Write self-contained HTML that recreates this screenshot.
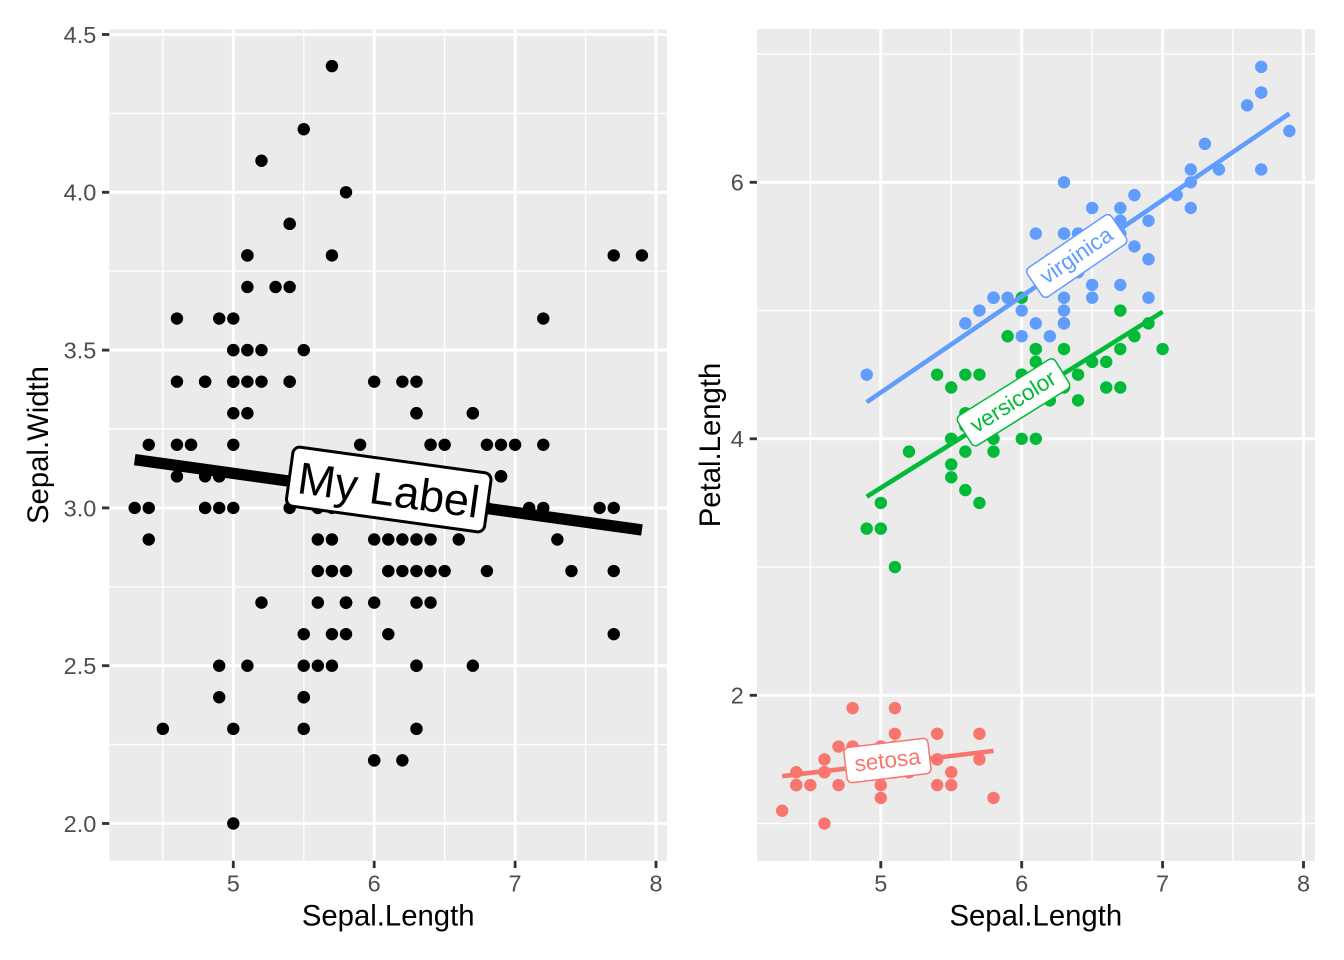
<!DOCTYPE html>
<html><head><meta charset="utf-8"><style>
html,body{margin:0;padding:0;background:#fff;}
svg{display:block;font-family:"Liberation Sans",Arial,sans-serif;}
.tk{font-size:23.5px;fill:#4D4D4D;}
.tt{font-size:29.3px;fill:#000;}
</style></head><body>
<svg width="1344" height="960" viewBox="0 0 1344 960" xmlns="http://www.w3.org/2000/svg">
<defs>
<ellipse id="a" cx="0" cy="0" rx="0.0440" ry="0.01965"/>
<ellipse id="b" cx="0" cy="0" rx="0.0440" ry="0.04834"/>
</defs>
<rect width="1344" height="960" fill="#fff"/>

<!-- LEFT PANEL -->
<rect x="109.3" y="29.2" width="557.7" height="831.6" fill="#EBEBEB"/>
<g stroke="#fff" stroke-width="1.42">
<line x1="162.85" y1="29.2" x2="162.85" y2="860.8"/>
<line x1="303.75" y1="29.2" x2="303.75" y2="860.8"/>
<line x1="444.65" y1="29.2" x2="444.65" y2="860.8"/>
<line x1="585.55" y1="29.2" x2="585.55" y2="860.8"/>
<line x1="109.3" y1="744.6" x2="667" y2="744.6"/>
<line x1="109.3" y1="586.8" x2="667" y2="586.8"/>
<line x1="109.3" y1="429.0" x2="667" y2="429.0"/>
<line x1="109.3" y1="271.2" x2="667" y2="271.2"/>
<line x1="109.3" y1="113.4" x2="667" y2="113.4"/>
</g>
<g stroke="#fff" stroke-width="2.84">
<line x1="233.3" y1="29.2" x2="233.3" y2="860.8"/>
<line x1="374.2" y1="29.2" x2="374.2" y2="860.8"/>
<line x1="515.1" y1="29.2" x2="515.1" y2="860.8"/>
<line x1="656.0" y1="29.2" x2="656.0" y2="860.8"/>
<line x1="109.3" y1="823.5" x2="667" y2="823.5"/>
<line x1="109.3" y1="665.7" x2="667" y2="665.7"/>
<line x1="109.3" y1="507.9" x2="667" y2="507.9"/>
<line x1="109.3" y1="350.1" x2="667" y2="350.1"/>
<line x1="109.3" y1="192.3" x2="667" y2="192.3"/>
<line x1="109.3" y1="34.5" x2="667" y2="34.5"/>
</g>
<g transform="translate(-471.2,1454.7) scale(140.9,-315.6)" fill="#000">
<use href="#a" x="5.1" y="3.5"/><use href="#a" x="4.9" y="3.0"/><use href="#a" x="4.7" y="3.2"/><use href="#a" x="4.6" y="3.1"/><use href="#a" x="5.0" y="3.6"/><use href="#a" x="5.4" y="3.9"/><use href="#a" x="4.6" y="3.4"/><use href="#a" x="5.0" y="3.4"/><use href="#a" x="4.4" y="2.9"/><use href="#a" x="4.9" y="3.1"/>
<use href="#a" x="5.4" y="3.7"/><use href="#a" x="4.8" y="3.4"/><use href="#a" x="4.8" y="3.0"/><use href="#a" x="4.3" y="3.0"/><use href="#a" x="5.8" y="4.0"/><use href="#a" x="5.7" y="4.4"/><use href="#a" x="5.4" y="3.9"/><use href="#a" x="5.1" y="3.5"/><use href="#a" x="5.7" y="3.8"/><use href="#a" x="5.1" y="3.8"/>
<use href="#a" x="5.4" y="3.4"/><use href="#a" x="5.1" y="3.7"/><use href="#a" x="4.6" y="3.6"/><use href="#a" x="5.1" y="3.3"/><use href="#a" x="4.8" y="3.4"/><use href="#a" x="5.0" y="3.0"/><use href="#a" x="5.0" y="3.4"/><use href="#a" x="5.2" y="3.5"/><use href="#a" x="5.2" y="3.4"/><use href="#a" x="4.7" y="3.2"/>
<use href="#a" x="4.8" y="3.1"/><use href="#a" x="5.4" y="3.4"/><use href="#a" x="5.2" y="4.1"/><use href="#a" x="5.5" y="4.2"/><use href="#a" x="4.9" y="3.1"/><use href="#a" x="5.0" y="3.2"/><use href="#a" x="5.5" y="3.5"/><use href="#a" x="4.9" y="3.6"/><use href="#a" x="4.4" y="3.0"/><use href="#a" x="5.1" y="3.4"/>
<use href="#a" x="5.0" y="3.5"/><use href="#a" x="4.5" y="2.3"/><use href="#a" x="4.4" y="3.2"/><use href="#a" x="5.0" y="3.5"/><use href="#a" x="5.1" y="3.8"/><use href="#a" x="4.8" y="3.0"/><use href="#a" x="5.1" y="3.8"/><use href="#a" x="4.6" y="3.2"/><use href="#a" x="5.3" y="3.7"/><use href="#a" x="5.0" y="3.3"/>
<use href="#a" x="7.0" y="3.2"/><use href="#a" x="6.4" y="3.2"/><use href="#a" x="6.9" y="3.1"/><use href="#a" x="5.5" y="2.3"/><use href="#a" x="6.5" y="2.8"/><use href="#a" x="5.7" y="2.8"/><use href="#a" x="6.3" y="3.3"/><use href="#a" x="4.9" y="2.4"/><use href="#a" x="6.6" y="2.9"/><use href="#a" x="5.2" y="2.7"/>
<use href="#a" x="5.0" y="2.0"/><use href="#a" x="5.9" y="3.0"/><use href="#a" x="6.0" y="2.2"/><use href="#a" x="6.1" y="2.9"/><use href="#a" x="5.6" y="2.9"/><use href="#a" x="6.7" y="3.1"/><use href="#a" x="5.6" y="3.0"/><use href="#a" x="5.8" y="2.7"/><use href="#a" x="6.2" y="2.2"/><use href="#a" x="5.6" y="2.5"/>
<use href="#a" x="5.9" y="3.2"/><use href="#a" x="6.1" y="2.8"/><use href="#a" x="6.3" y="2.5"/><use href="#a" x="6.1" y="2.8"/><use href="#a" x="6.4" y="2.9"/><use href="#a" x="6.6" y="3.0"/><use href="#a" x="6.8" y="2.8"/><use href="#a" x="6.7" y="3.0"/><use href="#a" x="6.0" y="2.9"/><use href="#a" x="5.7" y="2.6"/>
<use href="#a" x="5.5" y="2.4"/><use href="#a" x="5.5" y="2.4"/><use href="#a" x="5.8" y="2.7"/><use href="#a" x="6.0" y="2.7"/><use href="#a" x="5.4" y="3.0"/><use href="#a" x="6.0" y="3.4"/><use href="#a" x="6.7" y="3.1"/><use href="#a" x="6.3" y="2.3"/><use href="#a" x="5.6" y="3.0"/><use href="#a" x="5.5" y="2.5"/>
<use href="#a" x="5.5" y="2.6"/><use href="#a" x="6.1" y="3.0"/><use href="#a" x="5.8" y="2.6"/><use href="#a" x="5.0" y="2.3"/><use href="#a" x="5.6" y="2.7"/><use href="#a" x="5.7" y="3.0"/><use href="#a" x="5.7" y="2.9"/><use href="#a" x="6.2" y="2.9"/><use href="#a" x="5.1" y="2.5"/><use href="#a" x="5.7" y="2.8"/>
<use href="#a" x="6.3" y="3.3"/><use href="#a" x="5.8" y="2.7"/><use href="#a" x="7.1" y="3.0"/><use href="#a" x="6.3" y="2.9"/><use href="#a" x="6.5" y="3.0"/><use href="#a" x="7.6" y="3.0"/><use href="#a" x="4.9" y="2.5"/><use href="#a" x="7.3" y="2.9"/><use href="#a" x="6.7" y="2.5"/><use href="#a" x="7.2" y="3.6"/>
<use href="#a" x="6.5" y="3.2"/><use href="#a" x="6.4" y="2.7"/><use href="#a" x="6.8" y="3.0"/><use href="#a" x="5.7" y="2.5"/><use href="#a" x="5.8" y="2.8"/><use href="#a" x="6.4" y="3.2"/><use href="#a" x="6.5" y="3.0"/><use href="#a" x="7.7" y="3.8"/><use href="#a" x="7.7" y="2.6"/><use href="#a" x="6.0" y="2.2"/>
<use href="#a" x="6.9" y="3.2"/><use href="#a" x="5.6" y="2.8"/><use href="#a" x="7.7" y="2.8"/><use href="#a" x="6.3" y="2.7"/><use href="#a" x="6.7" y="3.3"/><use href="#a" x="7.2" y="3.2"/><use href="#a" x="6.2" y="2.8"/><use href="#a" x="6.1" y="3.0"/><use href="#a" x="6.4" y="2.8"/><use href="#a" x="7.2" y="3.0"/>
<use href="#a" x="7.4" y="2.8"/><use href="#a" x="7.9" y="3.8"/><use href="#a" x="6.4" y="2.8"/><use href="#a" x="6.3" y="2.8"/><use href="#a" x="6.1" y="2.6"/><use href="#a" x="7.7" y="3.0"/><use href="#a" x="6.3" y="3.4"/><use href="#a" x="6.4" y="3.1"/><use href="#a" x="6.0" y="3.0"/><use href="#a" x="6.9" y="3.1"/>
<use href="#a" x="6.7" y="3.1"/><use href="#a" x="6.9" y="3.1"/><use href="#a" x="5.8" y="2.7"/><use href="#a" x="6.8" y="3.2"/><use href="#a" x="6.7" y="3.3"/><use href="#a" x="6.7" y="3.0"/><use href="#a" x="6.3" y="2.5"/><use href="#a" x="6.5" y="3.0"/><use href="#a" x="6.2" y="3.4"/><use href="#a" x="5.9" y="3.0"/>
</g>
<line x1="134.67" y1="459.66" x2="641.9" y2="529.97" stroke="#000" stroke-width="11.4"/>
<g transform="translate(388.75,489.5) rotate(7.89)">
<rect x="-100" y="-29.8" width="200" height="59.6" rx="7" ry="7" fill="#fff" stroke="#000" stroke-width="3"/>
<text x="0" y="16" text-anchor="middle" font-size="45" fill="#000">My Label</text>
</g>
<g stroke="#333" stroke-width="2.84">
<line x1="102" y1="823.5" x2="109.3" y2="823.5"/>
<line x1="102" y1="665.7" x2="109.3" y2="665.7"/>
<line x1="102" y1="507.9" x2="109.3" y2="507.9"/>
<line x1="102" y1="350.1" x2="109.3" y2="350.1"/>
<line x1="102" y1="192.3" x2="109.3" y2="192.3"/>
<line x1="102" y1="34.5" x2="109.3" y2="34.5"/>
<line x1="233.3" y1="860.8" x2="233.3" y2="868.1"/>
<line x1="374.2" y1="860.8" x2="374.2" y2="868.1"/>
<line x1="515.1" y1="860.8" x2="515.1" y2="868.1"/>
<line x1="656.0" y1="860.8" x2="656.0" y2="868.1"/>
</g>
<g class="tk" text-anchor="end">
<text x="96.3" y="831.9">2.0</text>
<text x="96.3" y="674.1">2.5</text>
<text x="96.3" y="516.3">3.0</text>
<text x="96.3" y="358.5">3.5</text>
<text x="96.3" y="200.7">4.0</text>
<text x="96.3" y="42.9">4.5</text>
</g>
<g class="tk" text-anchor="middle">
<text x="233.3" y="891.7">5</text>
<text x="374.2" y="891.7">6</text>
<text x="515.1" y="891.7">7</text>
<text x="656.0" y="891.7">8</text>
</g>
<text class="tt" x="388.2" y="925.5" text-anchor="middle">Sepal.Length</text>
<text class="tt" transform="translate(48,445) rotate(-90)" text-anchor="middle">Sepal.Width</text>

<!-- RIGHT PANEL -->
<rect x="757" y="29" width="558" height="832" fill="#EBEBEB"/>
<g stroke="#fff" stroke-width="1.42">
<line x1="810.35" y1="29" x2="810.35" y2="861"/>
<line x1="951.25" y1="29" x2="951.25" y2="861"/>
<line x1="1092.15" y1="29" x2="1092.15" y2="861"/>
<line x1="1233.05" y1="29" x2="1233.05" y2="861"/>
<line x1="757" y1="823.55" x2="1315" y2="823.55"/>
<line x1="757" y1="567.05" x2="1315" y2="567.05"/>
<line x1="757" y1="310.55" x2="1315" y2="310.55"/>
<line x1="757" y1="54.05" x2="1315" y2="54.05"/>
</g>
<g stroke="#fff" stroke-width="2.84">
<line x1="880.8" y1="29" x2="880.8" y2="861"/>
<line x1="1021.7" y1="29" x2="1021.7" y2="861"/>
<line x1="1162.6" y1="29" x2="1162.6" y2="861"/>
<line x1="1303.5" y1="29" x2="1303.5" y2="861"/>
<line x1="757" y1="695.3" x2="1315" y2="695.3"/>
<line x1="757" y1="438.8" x2="1315" y2="438.8"/>
<line x1="757" y1="182.3" x2="1315" y2="182.3"/>
</g>
<g transform="translate(176.3,951.8) scale(140.9,-128.25)">
<g fill="#F8766D">
<use href="#b" x="5.1" y="1.4"/><use href="#b" x="4.9" y="1.4"/><use href="#b" x="4.7" y="1.3"/><use href="#b" x="4.6" y="1.5"/><use href="#b" x="5.0" y="1.4"/><use href="#b" x="5.4" y="1.7"/><use href="#b" x="4.6" y="1.4"/><use href="#b" x="5.0" y="1.5"/><use href="#b" x="4.4" y="1.4"/><use href="#b" x="4.9" y="1.5"/>
<use href="#b" x="5.4" y="1.5"/><use href="#b" x="4.8" y="1.6"/><use href="#b" x="4.8" y="1.4"/><use href="#b" x="4.3" y="1.1"/><use href="#b" x="5.8" y="1.2"/><use href="#b" x="5.7" y="1.5"/><use href="#b" x="5.4" y="1.3"/><use href="#b" x="5.1" y="1.4"/><use href="#b" x="5.7" y="1.7"/><use href="#b" x="5.1" y="1.5"/>
<use href="#b" x="5.4" y="1.7"/><use href="#b" x="5.1" y="1.5"/><use href="#b" x="4.6" y="1.0"/><use href="#b" x="5.1" y="1.7"/><use href="#b" x="4.8" y="1.9"/><use href="#b" x="5.0" y="1.6"/><use href="#b" x="5.0" y="1.6"/><use href="#b" x="5.2" y="1.5"/><use href="#b" x="5.2" y="1.4"/><use href="#b" x="4.7" y="1.6"/>
<use href="#b" x="4.8" y="1.6"/><use href="#b" x="5.4" y="1.5"/><use href="#b" x="5.2" y="1.5"/><use href="#b" x="5.5" y="1.4"/><use href="#b" x="4.9" y="1.5"/><use href="#b" x="5.0" y="1.2"/><use href="#b" x="5.5" y="1.3"/><use href="#b" x="4.9" y="1.4"/><use href="#b" x="4.4" y="1.3"/><use href="#b" x="5.1" y="1.5"/>
<use href="#b" x="5.0" y="1.3"/><use href="#b" x="4.5" y="1.3"/><use href="#b" x="4.4" y="1.3"/><use href="#b" x="5.0" y="1.6"/><use href="#b" x="5.1" y="1.9"/><use href="#b" x="4.8" y="1.4"/><use href="#b" x="5.1" y="1.6"/><use href="#b" x="4.6" y="1.4"/><use href="#b" x="5.3" y="1.5"/><use href="#b" x="5.0" y="1.4"/>
</g>
<g fill="#00BA38">
<use href="#b" x="7.0" y="4.7"/><use href="#b" x="6.4" y="4.5"/><use href="#b" x="6.9" y="4.9"/><use href="#b" x="5.5" y="4.0"/><use href="#b" x="6.5" y="4.6"/><use href="#b" x="5.7" y="4.5"/><use href="#b" x="6.3" y="4.7"/><use href="#b" x="4.9" y="3.3"/><use href="#b" x="6.6" y="4.6"/><use href="#b" x="5.2" y="3.9"/>
<use href="#b" x="5.0" y="3.5"/><use href="#b" x="5.9" y="4.2"/><use href="#b" x="6.0" y="4.0"/><use href="#b" x="6.1" y="4.7"/><use href="#b" x="5.6" y="3.6"/><use href="#b" x="6.7" y="4.4"/><use href="#b" x="5.6" y="4.5"/><use href="#b" x="5.8" y="4.1"/><use href="#b" x="6.2" y="4.5"/><use href="#b" x="5.6" y="3.9"/>
<use href="#b" x="5.9" y="4.8"/><use href="#b" x="6.1" y="4.0"/><use href="#b" x="6.3" y="4.9"/><use href="#b" x="6.1" y="4.7"/><use href="#b" x="6.4" y="4.3"/><use href="#b" x="6.6" y="4.4"/><use href="#b" x="6.8" y="4.8"/><use href="#b" x="6.7" y="5.0"/><use href="#b" x="6.0" y="4.5"/><use href="#b" x="5.7" y="3.5"/>
<use href="#b" x="5.5" y="3.8"/><use href="#b" x="5.5" y="3.7"/><use href="#b" x="5.8" y="3.9"/><use href="#b" x="6.0" y="5.1"/><use href="#b" x="5.4" y="4.5"/><use href="#b" x="6.0" y="4.5"/><use href="#b" x="6.7" y="4.7"/><use href="#b" x="6.3" y="4.4"/><use href="#b" x="5.6" y="4.1"/><use href="#b" x="5.5" y="4.0"/>
<use href="#b" x="5.5" y="4.4"/><use href="#b" x="6.1" y="4.6"/><use href="#b" x="5.8" y="4.0"/><use href="#b" x="5.0" y="3.3"/><use href="#b" x="5.6" y="4.2"/><use href="#b" x="5.7" y="4.2"/><use href="#b" x="5.7" y="4.2"/><use href="#b" x="6.2" y="4.3"/><use href="#b" x="5.1" y="3.0"/><use href="#b" x="5.7" y="4.1"/>
</g>
<g fill="#619CFF">
<use href="#b" x="6.3" y="6.0"/><use href="#b" x="5.8" y="5.1"/><use href="#b" x="7.1" y="5.9"/><use href="#b" x="6.3" y="5.6"/><use href="#b" x="6.5" y="5.8"/><use href="#b" x="7.6" y="6.6"/><use href="#b" x="4.9" y="4.5"/><use href="#b" x="7.3" y="6.3"/><use href="#b" x="6.7" y="5.8"/><use href="#b" x="7.2" y="6.1"/>
<use href="#b" x="6.5" y="5.1"/><use href="#b" x="6.4" y="5.3"/><use href="#b" x="6.8" y="5.5"/><use href="#b" x="5.7" y="5.0"/><use href="#b" x="5.8" y="5.1"/><use href="#b" x="6.4" y="5.3"/><use href="#b" x="6.5" y="5.5"/><use href="#b" x="7.7" y="6.7"/><use href="#b" x="7.7" y="6.9"/><use href="#b" x="6.0" y="5.0"/>
<use href="#b" x="6.9" y="5.7"/><use href="#b" x="5.6" y="4.9"/><use href="#b" x="7.7" y="6.7"/><use href="#b" x="6.3" y="4.9"/><use href="#b" x="6.7" y="5.7"/><use href="#b" x="7.2" y="6.0"/><use href="#b" x="6.2" y="4.8"/><use href="#b" x="6.1" y="4.9"/><use href="#b" x="6.4" y="5.6"/><use href="#b" x="7.2" y="5.8"/>
<use href="#b" x="7.4" y="6.1"/><use href="#b" x="7.9" y="6.4"/><use href="#b" x="6.4" y="5.6"/><use href="#b" x="6.3" y="5.1"/><use href="#b" x="6.1" y="5.6"/><use href="#b" x="7.7" y="6.1"/><use href="#b" x="6.3" y="5.6"/><use href="#b" x="6.4" y="5.5"/><use href="#b" x="6.0" y="4.8"/><use href="#b" x="6.9" y="5.4"/>
<use href="#b" x="6.7" y="5.6"/><use href="#b" x="6.9" y="5.1"/><use href="#b" x="5.8" y="5.1"/><use href="#b" x="6.8" y="5.9"/><use href="#b" x="6.7" y="5.7"/><use href="#b" x="6.7" y="5.2"/><use href="#b" x="6.3" y="5.0"/><use href="#b" x="6.5" y="5.2"/><use href="#b" x="6.2" y="5.4"/><use href="#b" x="5.9" y="5.1"/>
</g>
</g>
<g stroke-width="4.6">
<line x1="782.17" y1="776.22" x2="993.52" y2="750.90" stroke="#F8766D"/>
<line x1="866.71" y1="496.66" x2="1162.6" y2="311.78" stroke="#00BA38"/>
<line x1="866.71" y1="402.14" x2="1289.41" y2="113.55" stroke="#619CFF"/>
</g>
<g font-size="22.5" text-anchor="middle">
<g transform="translate(887.85,763.56) rotate(-6.83)">
<rect x="-42.3" y="-20.8" width="84.6" height="35.5" rx="5" ry="5" fill="#fff" stroke="#F8766D" stroke-width="1.5"/>
<text x="0" y="4.2" fill="#F8766D">setosa</text>
</g>
<g transform="translate(1014.66,404.22) rotate(-32.0)">
<rect x="-57.5" y="-19.8" width="115" height="35" rx="5" ry="5" fill="#fff" stroke="#00BA38" stroke-width="1.5"/>
<text x="0" y="4.5" fill="#00BA38">versicolor</text>
</g>
<g transform="translate(1078.06,257.84) rotate(-34.32)">
<rect x="-51" y="-19.8" width="102" height="35" rx="5" ry="5" fill="#fff" stroke="#619CFF" stroke-width="1.5"/>
<text x="0" y="4.5" fill="#619CFF">virginica</text>
</g>
</g>
<g stroke="#333" stroke-width="2.84">
<line x1="749.7" y1="695.3" x2="757" y2="695.3"/>
<line x1="749.7" y1="438.8" x2="757" y2="438.8"/>
<line x1="749.7" y1="182.3" x2="757" y2="182.3"/>
<line x1="880.8" y1="861" x2="880.8" y2="868.3"/>
<line x1="1021.7" y1="861" x2="1021.7" y2="868.3"/>
<line x1="1162.6" y1="861" x2="1162.6" y2="868.3"/>
<line x1="1303.5" y1="861" x2="1303.5" y2="868.3"/>
</g>
<g class="tk" text-anchor="end">
<text x="743.8" y="703.7">2</text>
<text x="743.8" y="447.2">4</text>
<text x="743.8" y="190.7">6</text>
</g>
<g class="tk" text-anchor="middle">
<text x="880.8" y="891.7">5</text>
<text x="1021.7" y="891.7">6</text>
<text x="1162.6" y="891.7">7</text>
<text x="1303.5" y="891.7">8</text>
</g>
<text class="tt" x="1035.8" y="925.5" text-anchor="middle">Sepal.Length</text>
<text class="tt" transform="translate(720,445) rotate(-90)" text-anchor="middle">Petal.Length</text>
</svg>
</body></html>
